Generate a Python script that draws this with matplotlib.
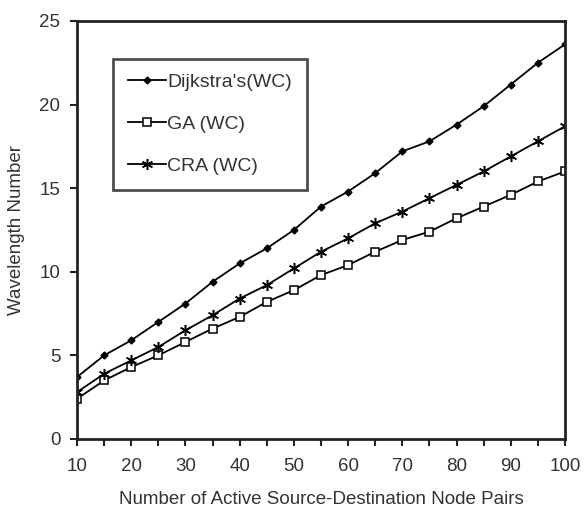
import matplotlib.pyplot as plt

plt.rcParams['font.family'] = ['Liberation Sans', 'DejaVu Sans']

pairs = [10, 15, 20, 25, 30, 35, 40, 45, 50, 55, 60, 65, 70, 75, 80, 85, 90, 95, 100]
dijkstra = [3.7, 5.0, 5.9, 7.0, 8.1, 9.4, 10.5, 11.4, 12.5, 13.9, 14.8, 15.9, 17.2, 17.8, 18.8, 19.9, 21.2, 22.5, 23.6]
ga = [2.4, 3.5, 4.3, 5.0, 5.8, 6.6, 7.3, 8.2, 8.9, 9.8, 10.4, 11.2, 11.9, 12.4, 13.2, 13.9, 14.6, 15.4, 16.0]
cra = [2.8, 3.9, 4.7, 5.5, 6.5, 7.4, 8.4, 9.2, 10.2, 11.2, 12.0, 12.9, 13.6, 14.4, 15.2, 16.0, 16.9, 17.8, 18.7]

labels = ["Dijkstra's(WC)", 'GA (WC)', 'CRA (WC)']
text_color = '#333333'

fig = plt.figure(figsize=(5.85, 5.15), dpi=100)
ax = fig.add_axes([0.1316, 0.1476, 0.8342, 0.8117])

ax.plot(pairs, dijkstra, color='black', lw=1.3, marker='D', markersize=3.5,
        mfc='black', mec='black', label=labels[0])
ax.plot(pairs, ga, color='black', lw=1.3, marker='s', markersize=6,
        mfc='white', mec='black', mew=1.1, label=labels[1])
ax.plot(pairs, cra, color='black', lw=1.3, marker=(6, 2, 0), markersize=8,
        mec='black', mew=1.1, label=labels[2])

ax.set_xlim(10, 100)
ax.set_ylim(0, 25)
ax.set_xticks(range(10, 101, 10))
ax.set_xticks(range(10, 101, 5), minor=True)
ax.set_yticks(range(0, 26, 5))
ax.tick_params(which='both', direction='out', length=5, width=1.5, color='#222222',
               labelcolor=text_color, labelsize=13.5)
ax.tick_params(axis='x', which='both', pad=9)
ax.tick_params(axis='y', pad=7)
for s in ax.spines.values():
    s.set_linewidth(2)
    s.set_color('#222222')

ax.set_xlabel('Number of Active Source-Destination Node Pairs', fontsize=13.5,
              color=text_color, va='center')
ax.xaxis.set_label_coords(0.5, -0.145)
ax.set_ylabel('Wavelength Number', fontsize=13.5, color=text_color, va='center')
ax.yaxis.set_label_coords(-0.123, 0.5)

leg = ax.legend(loc='upper left', bbox_to_anchor=(0.0738, 0.909), fontsize=14,
                frameon=True, fancybox=False, edgecolor='#222222',
                handlelength=2.0, handletextpad=0.05, labelspacing=1.25,
                borderpad=0.75, borderaxespad=0)
leg.get_frame().set_linewidth(2)
for t in leg.get_texts():
    t.set_color(text_color)

fig.savefig('out.png', dpi=100)
